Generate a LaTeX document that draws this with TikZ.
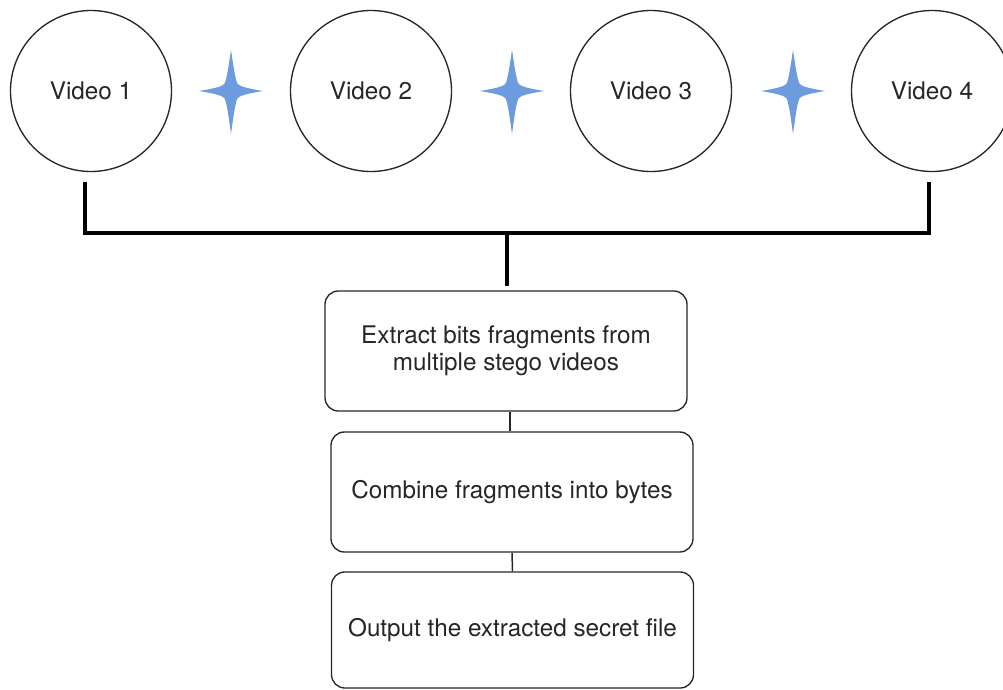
\documentclass[tikz,border=0pt]{standalone}
\usepackage{fontspec}
\setmainfont{TeX Gyre Heros}
\begin{document}
\begin{tikzpicture}[x=0.75pt,y=-0.75pt,
  txt/.style={font=\fontsize{18.2pt}{21pt}\selectfont, text=black!85},
  video/.style={circle, draw=black!85, line width=1pt, minimum size=120.75pt, inner sep=0pt, txt},
  stepbox/.style={draw=black!85, line width=1pt, rounded corners=10pt, minimum width=271.5pt, minimum height=90pt, inner sep=0pt, align=center, txt},
  bracket/.style={draw=black, line width=2.3pt},
  link/.style={draw=black!85, line width=1.1pt},
  sparkle/.style={fill=starblue}]
\definecolor{starblue}{RGB}{108,155,222}
\useasboundingbox (0,0) rectangle (1003,689);
\clip (0,0) rectangle (1003,689);

\node[video] (v1) at (91,91) {Video 1};
\node[video] (v2) at (371,91) {Video 2};
\node[video] (v3) at (651,91) {Video 3};
\node[video] (v4) at (932,91) {Video 4};

\foreach \cx in {231,512,793}{
  \fill[sparkle] (\cx,50) .. controls (\cx+3,70) and (\cx+5,84) .. (\cx+7.5,84.5)
    .. controls (\cx+10,87) and (\cx+20,89) .. (\cx+32,91)
    .. controls (\cx+20,93) and (\cx+10,95) .. (\cx+7.5,97.5)
    .. controls (\cx+5,98) and (\cx+3,112) .. (\cx,134)
    .. controls (\cx-3,112) and (\cx-5,98) .. (\cx-7.5,97.5)
    .. controls (\cx-10,95) and (\cx-20,93) .. (\cx-32,91)
    .. controls (\cx-20,89) and (\cx-10,87) .. (\cx-7.5,84.5)
    .. controls (\cx-5,84) and (\cx-3,70) .. (\cx,50) -- cycle;
}

\node[stepbox] (b1) at (506,351) {Extract bits fragments from\\[-0.6pt]multiple stego videos};
\node[stepbox] (b2) at (512,492) {Combine fragments into bytes};
\node[stepbox, minimum height=87pt] (b3) at (512.5,630) {Output the extracted secret file};

\coordinate (j) at (507,233);
\draw[bracket] ([xshift=-4.5pt,yshift=-7.5pt]v1.south) |- (j) -| ([xshift=-2.25pt,yshift=-7.5pt]v4.south);
\draw[bracket, shorten >=3pt] (j) -- (j |- b1.north);
\draw[link] ([xshift=3pt]b1.south) -- ([xshift=3pt]b1.south |- b2.north);
\draw[link] (b2.south) -- (b3.north);
\end{tikzpicture}
\end{document}
